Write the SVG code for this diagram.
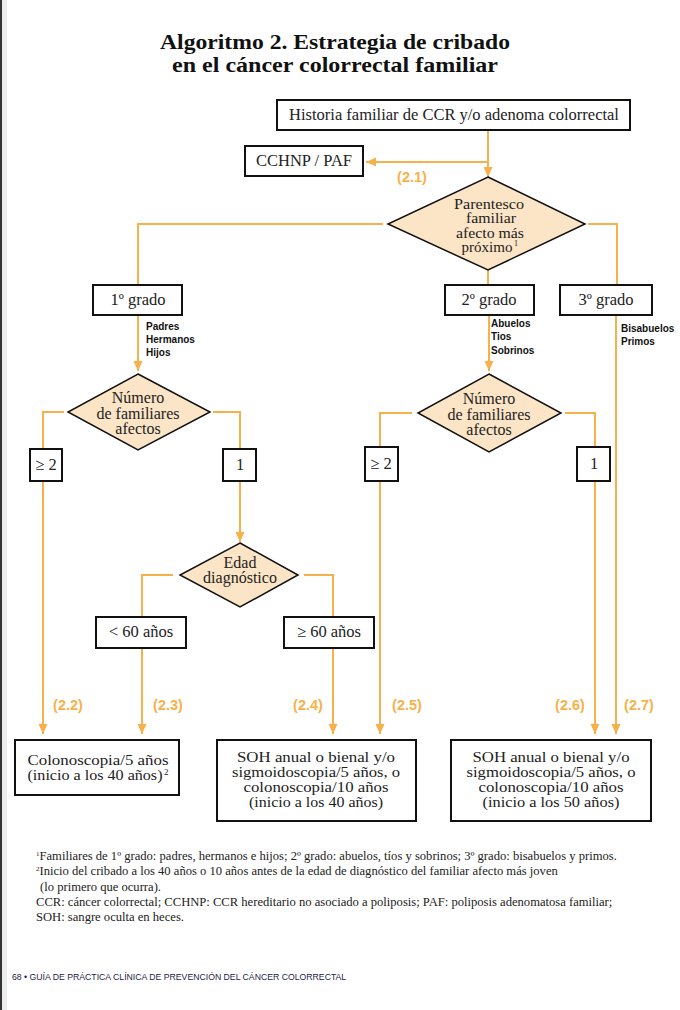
<svg xmlns="http://www.w3.org/2000/svg" width="680" height="1010" viewBox="0 0 680 1010">
<defs>
<marker id="ah" markerUnits="userSpaceOnUse" markerWidth="10" markerHeight="10" refX="10" refY="4.5" orient="auto"><path d="M0,0 L10,4.5 L0,9 z" fill="#F8B14A"/></marker>
</defs>
<style>
.t{font-family:"Liberation Serif","Times New Roman",serif;fill:#222;font-size:16.5px;text-anchor:middle;}
.b{font-family:"Liberation Serif","Times New Roman",serif;fill:#222;font-size:15px;text-anchor:middle;}
.d{font-family:"Liberation Serif","Times New Roman",serif;fill:#222;font-size:16px;text-anchor:middle;}
.box{fill:#fff;stroke:#111;stroke-width:2;}
.dia{fill:#FCE5C6;stroke:#111;stroke-width:1.5;}
.c{fill:none;stroke:#F8B14A;stroke-width:2;}
.lab{font-family:"Liberation Sans",Arial,sans-serif;font-weight:bold;font-size:14.5px;fill:#F8B14A;text-anchor:middle;}
.sm{font-family:"Liberation Sans",Arial,sans-serif;font-weight:bold;font-size:10px;fill:#111;}
.fn{font-family:"Liberation Serif","Times New Roman",serif;font-size:12.6px;fill:#222;}
</style>
<rect x="0" y="0" width="680" height="1010" fill="#fff"/>
<rect x="2" y="0" width="5" height="1010" fill="#ececec"/>
<rect x="0" y="0" width="2" height="1010" fill="#333"/>

<g id="title">
<text x="335" y="49" font-family="Liberation Serif, Times New Roman, serif" font-size="22" font-weight="bold" text-anchor="middle" fill="#111" textLength="350" lengthAdjust="spacingAndGlyphs">Algoritmo 2. Estrategia de cribado</text>
<text x="335" y="72" font-family="Liberation Serif, Times New Roman, serif" font-size="22" font-weight="bold" text-anchor="middle" fill="#111" textLength="326" lengthAdjust="spacingAndGlyphs">en el cáncer colorrectal familiar</text>
</g>

<g id="connectors">
<line class="c" x1="488" y1="130" x2="488" y2="177" marker-end="url(#ah)"/>
<line class="c" x1="488" y1="162" x2="366" y2="162" marker-end="url(#ah)"/>
<polyline class="c" points="383,224 138,224 138,285"/>
<line class="c" x1="488" y1="270" x2="488" y2="286"/>
<polyline class="c" points="588,224 617,224 617,285"/>
<line class="c" x1="138" y1="315" x2="138" y2="371" marker-end="url(#ah)"/>
<line class="c" x1="489" y1="315" x2="489" y2="371" marker-end="url(#ah)"/>
<line class="c" x1="616" y1="315" x2="616" y2="734" marker-end="url(#ah)"/>
<polyline class="c" points="64,412 43,412 43,449"/>
<polyline class="c" points="213,412 240,412 240,449"/>
<line class="c" x1="43" y1="481" x2="43" y2="734" marker-end="url(#ah)"/>
<line class="c" x1="240" y1="481" x2="240" y2="542" marker-end="url(#ah)"/>
<polyline class="c" points="173,575 142,575 142,617"/>
<polyline class="c" points="304,575 333,575 333,617"/>
<line class="c" x1="142" y1="648" x2="142" y2="734" marker-end="url(#ah)"/>
<line class="c" x1="333" y1="648" x2="333" y2="734" marker-end="url(#ah)"/>
<polyline class="c" points="412,413 380,413 380,447"/>
<polyline class="c" points="565,413 595,413 595,447"/>
<line class="c" x1="380" y1="481" x2="380" y2="734" marker-end="url(#ah)"/>
<line class="c" x1="595" y1="481" x2="595" y2="734" marker-end="url(#ah)"/>
<text class="lab" x="412" y="182">(2.1)</text>
<text class="lab" x="68" y="710">(2.2)</text>
<text class="lab" x="168" y="710">(2.3)</text>
<text class="lab" x="308" y="710">(2.4)</text>
<text class="lab" x="407" y="710">(2.5)</text>
<text class="lab" x="570" y="710">(2.6)</text>
<text class="lab" x="639" y="710">(2.7)</text>
<text class="sm" x="146" y="330">Padres</text>
<text class="sm" x="146" y="343">Hermanos</text>
<text class="sm" x="146" y="356">Hijos</text>
<text class="sm" x="491" y="327">Abuelos</text>
<text class="sm" x="491" y="340">Tios</text>
<text class="sm" x="491" y="354">Sobrinos</text>
<text class="sm" x="621" y="332">Bisabuelos</text>
<text class="sm" x="621" y="345">Primos</text>
</g>

<g id="historia">
<rect class="box" x="277" y="100" width="353" height="30"/>
<text class="t" x="454" y="120">Historia familiar de CCR y/o adenoma colorrectal</text>
</g>
<g id="cchnp">
<rect class="box" x="245" y="146" width="118" height="30"/>
<text class="t" x="304" y="166">CCHNP / PAF</text>
</g>
<g id="parentesco">
<polygon class="dia" points="488,177 585,224 488,270 388,224"/>
<text class="b" x="489" y="209" textLength="70" lengthAdjust="spacingAndGlyphs">Parentesco</text>
<text class="b" x="491" y="223" textLength="50" lengthAdjust="spacingAndGlyphs">familiar</text>
<text class="b" x="490" y="238" textLength="68" lengthAdjust="spacingAndGlyphs">afecto más</text>
<text class="b" x="487" y="252" textLength="51" lengthAdjust="spacingAndGlyphs">próximo</text>
<text x="514" y="246" font-family="Liberation Serif, Times New Roman, serif" font-size="8" fill="#222">1</text>
</g>
<g id="grado1">
<rect class="box" x="93" y="285" width="89" height="30"/>
<text class="t" x="138" y="305">1º grado</text>
</g>
<g id="grado2">
<rect class="box" x="445" y="285" width="89" height="30"/>
<text class="t" x="489" y="305">2º grado</text>
</g>
<g id="grado3">
<rect class="box" x="560" y="285" width="92" height="30"/>
<text class="t" x="606" y="305">3º grado</text>
</g>
<g id="numero1">
<polygon class="dia" points="138,374 210,412 138,450 68,412"/>
<text class="d" x="138" y="403">Número</text>
<text class="d" x="138" y="419">de familiares</text>
<text class="d" x="138" y="434">afectos</text>
</g>
<g id="numero2">
<polygon class="dia" points="489,374 561,413 489,452 418,413"/>
<text class="d" x="489" y="404">Número</text>
<text class="d" x="489" y="420">de familiares</text>
<text class="d" x="489" y="435">afectos</text>
</g>
<g id="ge2a">
<rect class="box" x="30" y="449" width="32" height="32"/>
<text class="t" x="46" y="470">≥ 2</text>
</g>
<g id="uno1">
<rect class="box" x="223" y="449" width="33" height="32"/>
<text class="t" x="240" y="470">1</text>
</g>
<g id="ge2b">
<rect class="box" x="365" y="447" width="33" height="34"/>
<text class="t" x="381" y="469">≥ 2</text>
</g>
<g id="uno2">
<rect class="box" x="577" y="447" width="33" height="34"/>
<text class="t" x="594" y="469">1</text>
</g>
<g id="edad">
<polygon class="dia" points="240,543 298,575 240,607 180,575"/>
<text class="d" x="240" y="568">Edad</text>
<text class="d" x="240" y="583">diagnóstico</text>
</g>
<g id="menos60">
<rect class="box" x="96" y="617" width="90" height="31"/>
<text class="t" x="141" y="637">&lt; 60 años</text>
</g>
<g id="mas60">
<rect class="box" x="284" y="617" width="90" height="31"/>
<text class="t" x="329" y="637">≥ 60 años</text>
</g>
<g id="colono">
<rect class="box" x="15" y="740" width="164" height="55"/>
<text class="b" x="98" y="765" textLength="141" lengthAdjust="spacingAndGlyphs">Colonoscopia/5 años</text>
<text class="b" x="95" y="780" textLength="135" lengthAdjust="spacingAndGlyphs">(inicio a los 40 años)</text>
<text x="164" y="775" font-family="Liberation Serif, Times New Roman, serif" font-size="9" fill="#222">2</text>
</g>
<g id="soh40">
<rect class="box" x="217" y="740" width="199" height="81"/>
<text class="b" x="316" y="762" textLength="158" lengthAdjust="spacingAndGlyphs">SOH anual o bienal y/o</text>
<text class="b" x="316" y="777" textLength="168" lengthAdjust="spacingAndGlyphs">sigmoidoscopia/5 años, o</text>
<text class="b" x="316" y="792" textLength="145" lengthAdjust="spacingAndGlyphs">colonoscopia/10 años</text>
<text class="b" x="316" y="807" textLength="134" lengthAdjust="spacingAndGlyphs">(inicio a los 40 años)</text>
</g>
<g id="soh50">
<rect class="box" x="451" y="740" width="200" height="81"/>
<text class="b" x="551" y="762" textLength="157" lengthAdjust="spacingAndGlyphs">SOH anual o bienal y/o</text>
<text class="b" x="551" y="777" textLength="169" lengthAdjust="spacingAndGlyphs">sigmoidoscopia/5 años, o</text>
<text class="b" x="551" y="792" textLength="145" lengthAdjust="spacingAndGlyphs">colonoscopia/10 años</text>
<text class="b" x="551" y="807" textLength="137" lengthAdjust="spacingAndGlyphs">(inicio a los 50 años)</text>
</g>

<g id="footnotes">
<text class="fn" x="36" y="860"><tspan font-size="7" dy="-4">1</tspan><tspan dy="4">Familiares de 1º grado: padres, hermanos e hijos; 2º grado: abuelos, tíos y sobrinos; 3º grado: bisabuelos y primos.</tspan></text>
<text class="fn" x="36" y="875"><tspan font-size="7" dy="-4">2</tspan><tspan dy="4">Inicio del cribado a los 40 años o 10 años antes de la edad de diagnóstico del familiar afecto más joven</tspan></text>
<text class="fn" x="40" y="891">(lo primero que ocurra).</text>
<text class="fn" x="36" y="906">CCR: cáncer colorrectal; CCHNP: CCR hereditario no asociado a poliposis; PAF: poliposis adenomatosa familiar;</text>
<text class="fn" x="36" y="921">SOH: sangre oculta en heces.</text>
</g>
<g id="footer">
<text x="12" y="980" font-family="Liberation Sans, Arial, sans-serif" font-size="8.7" fill="#1c1c4a">68  •  GUÍA DE PRÁCTICA CLÍNICA DE PREVENCIÓN DEL CÁNCER COLORRECTAL</text>
</g>
</svg>
